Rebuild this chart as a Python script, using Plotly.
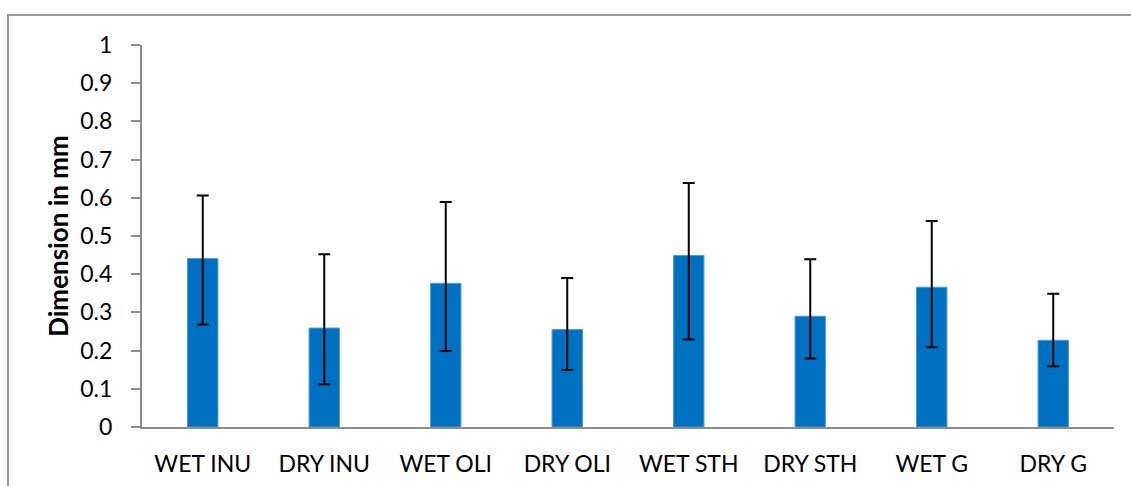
import plotly.graph_objects as go

categories = ["WET INU", "DRY INU", "WET OLI", "DRY OLI", "WET STH", "DRY STH", "WET G", "DRY G"]
values = [0.441, 0.259, 0.376, 0.255, 0.449, 0.290, 0.366, 0.227]
err_top = [0.606, 0.452, 0.589, 0.390, 0.639, 0.439, 0.539, 0.349]
err_bottom = [0.268, 0.112, 0.199, 0.149, 0.229, 0.179, 0.209, 0.159]
y_ticks = [0, 0.1, 0.2, 0.3, 0.4, 0.5, 0.6, 0.7, 0.8, 0.9, 1]
y_tick_labels = ["0", "0.1", "0.2", "0.3", "0.4", "0.5", "0.6", "0.7", "0.8", "0.9", "1"]

err_plus = [t - v for t, v in zip(err_top, values)]
err_minus = [v - b for v, b in zip(values, err_bottom)]

FONT = "Lato"
L, T = 142, 45
PLOT_W, PLOT_H = 972, 382

fig = go.Figure()
fig.add_trace(go.Bar(
    x=categories, y=values,
    marker=dict(color="#0070C0", line=dict(color="#4A9BD8", width=1)),
    error_y=dict(type="data", symmetric=False, array=err_plus, arrayminus=err_minus,
                 color="#000000", thickness=2, width=6),
    showlegend=False,
))

fig.update_layout(
    width=1131, height=486,
    margin=dict(l=L, r=1131 - L - PLOT_W, t=T, b=486 - T - PLOT_H),
    paper_bgcolor="white", plot_bgcolor="white",
    bargap=0.75,
    font=dict(family=FONT, size=23, color="#000000"),
    xaxis=dict(showline=True, linecolor="#8C8C8C", linewidth=2, ticks="",
               ticklabelstandoff=15, automargin=False,
               tickfont=dict(family=FONT, size=23), showgrid=False),
    yaxis=dict(range=[0, 1], tickvals=y_ticks, ticktext=y_tick_labels,
               showline=True, linecolor="#8C8C8C", linewidth=2,
               ticks="outside", ticklen=9, tickwidth=2, tickcolor="#8C8C8C",
               ticklabelstandoff=14, automargin=False,
               showgrid=False, zeroline=False,
               tickfont=dict(family=FONT, size=23),
               title=dict(text="<b>Dimension in mm</b>", font=dict(family=FONT, size=26), standoff=4)),
    shapes=[dict(type="rect", xref="paper", yref="paper",
                 x0=(8 - L) / PLOT_W, x1=1.1, y0=-0.3, y1=(T + PLOT_H - 15) / PLOT_H,
                 line=dict(color="#999999", width=2), fillcolor="rgba(0,0,0,0)", layer="below")],
)

fig.write_html("out.html", config={"displayModeBar": False},
               post_script="document.body.style.margin='0';document.body.style.overflow='hidden';")
